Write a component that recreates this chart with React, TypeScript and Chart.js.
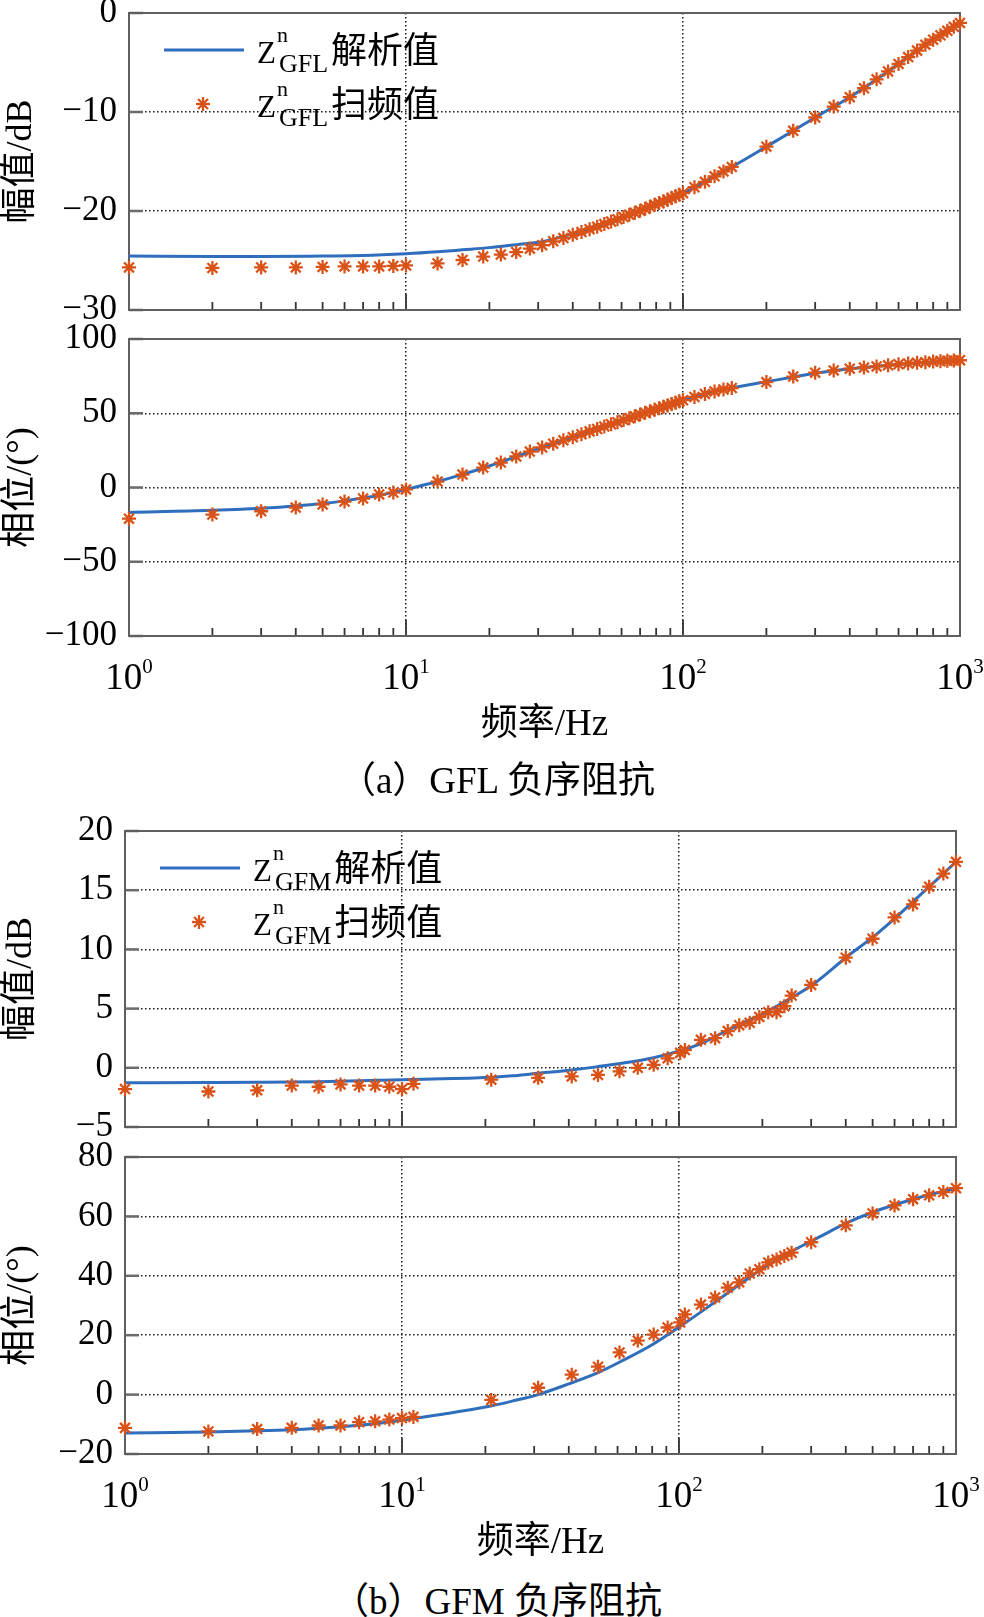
import React, { useEffect, useRef } from 'react';
import { Chart, registerables } from 'chart.js';

Chart.register(...registerables);

// ---------------- data ----------------
// GFL negative-sequence impedance: sweep points
const gflScanFreq = [1, 2, 3, 4, 5, 6, 7, 8, 9, 10, 13, 16, 19, 22, 25, 28, 31, 34, 37, 40, 43, 46, 49, 52, 55, 58, 61, 64, 67, 70, 73, 76, 79, 82, 85, 88, 91, 94, 97, 100, 110, 120, 130, 140, 150, 200, 250, 300, 350, 400, 450, 500, 550, 600, 650, 700, 750, 800, 850, 900, 950, 1000];
const gflScanMag = [-25.7, -25.75, -25.7, -25.7, -25.65, -25.6, -25.6, -25.6, -25.55, -25.5, -25.3, -24.95, -24.6, -24.4, -24.15, -23.8, -23.45, -23.06, -22.73, -22.41, -22.13, -21.84, -21.58, -21.32, -21.07, -20.84, -20.61, -20.39, -20.17, -19.97, -19.77, -19.57, -19.38, -19.2, -19.03, -18.86, -18.68, -18.52, -18.36, -18.2, -17.6, -17.05, -16.5, -16.0, -15.55, -13.5, -11.9, -10.55, -9.45, -8.5, -7.6, -6.7, -5.9, -5.15, -4.45, -3.8, -3.2, -2.7, -2.25, -1.8, -1.4, -1.0];
const gflScanPhase = [-21, -18.2, -16, -13.5, -11.4, -9.5, -7.4, -4.7, -3.4, -1.3, 4, 8.7, 13.4, 16.8, 20.9, 24.2, 27, 29.5, 31.8, 33.9, 35.9, 37.8, 39.4, 41.1, 42.6, 44, 45.4, 46.7, 47.9, 49.1, 50.3, 51.4, 52.4, 53.4, 54.4, 55.3, 56.3, 57.1, 58, 58.8, 61, 63, 64.7, 66, 67, 71, 74.7, 77.3, 78.8, 80, 80.8, 81.5, 82.3, 83, 83.5, 84, 84.4, 84.8, 85.1, 85.3, 85.5, 85.7];
// GFL analytic curve
const gflLineMagFreq = [1, 2, 3, 5, 7, 10, 13, 16, 20, 25, 31, 40, 50, 63, 80, 100, 130, 160, 200, 250, 300, 400, 500, 600, 700, 800, 900, 1000];
const gflLineMag = [-24.55, -24.6, -24.6, -24.55, -24.5, -24.32, -24.12, -23.92, -23.7, -23.4, -23.1, -22.3, -21.45, -20.45, -19.32, -18.2, -16.5, -15.1, -13.5, -11.9, -10.55, -8.5, -6.7, -5.15, -3.8, -2.7, -1.8, -1.0];
const gflLinePhaseFreq = [1, 2, 3, 4, 5, 6, 7, 8, 9, 10, 13, 16, 20, 25, 31, 40, 50, 63, 80, 100, 130, 160, 200, 250, 300, 400, 500, 600, 700, 800, 1000];
const gflLinePhase = [-16.8, -15.4, -13.9, -12.4, -10.8, -9.0, -7.1, -5.2, -3.3, -1.3, 4.0, 8.8, 14.5, 20.8, 27, 33.9, 40, 46.3, 52.8, 58.8, 64.8, 68.0, 71.2, 74.4, 77.0, 80, 81.6, 82.8, 83.8, 84.5, 85.6];

// GFM negative-sequence impedance: sweep points
const gfmScanFreq = [1, 2, 3, 4, 5, 6, 7, 8, 9, 10, 11, 21, 31, 41, 51, 61, 71, 81, 91, 101, 105, 120, 135, 150, 165, 180, 195, 210, 225, 240, 255, 300, 400, 500, 600, 700, 800, 900, 1000];
const gfmScanMag = [-1.8, -2.0, -1.9, -1.5, -1.6, -1.4, -1.5, -1.5, -1.6, -1.8, -1.35, -1.0, -0.85, -0.73, -0.6, -0.3, 0.0, 0.25, 0.8, 1.26, 1.5, 2.36, 2.5, 3.1, 3.6, 3.8, 4.3, 4.7, 4.7, 5.2, 6.1, 7.0, 9.3, 10.9, 12.7, 13.8, 15.3, 16.4, 17.4];
const gfmScanPhase = [-11.2, -12.4, -11.6, -11.2, -10.4, -10.4, -9.3, -9.0, -8.4, -7.9, -7.5, -1.8, 2.3, 6.7, 9.4, 14.2, 18.2, 20.2, 22.6, 24.3, 27, 30.3, 32.7, 36, 37.8, 40.8, 42.2, 44.5, 45.5, 46.7, 47.8, 51.3, 57, 61, 63.7, 65.8, 67.1, 68.2, 69.5];
// GFM analytic curve
const gfmLineMagFreq = [1, 2, 3, 5, 7, 10, 14, 19, 25, 31, 40, 51, 63, 81, 101, 120, 134, 160, 202, 250, 307, 405, 505, 600, 704, 800, 900, 1000];
const gfmLineMag = [-1.26, -1.24, -1.22, -1.17, -1.1, -1.0, -0.93, -0.85, -0.68, -0.46, -0.2, 0.1, 0.4, 0.85, 1.45, 2.05, 2.6, 3.5, 4.6, 5.8, 7.1, 9.4, 11.1, 12.6, 14.1, 15.3, 16.4, 17.4];
const gfmLinePhaseFreq = [1, 2, 3, 4, 5, 6, 7, 8, 10, 14, 20, 25, 31, 40, 51, 63, 80, 101, 126, 160, 202, 250, 320, 405, 500, 630, 800, 1000];
const gfmLinePhase = [-12.9, -12.6, -12.2, -11.8, -11.3, -10.8, -10.3, -9.8, -8.6, -6.6, -4.2, -2.2, 0, 3.6, 7.4, 11.6, 16.8, 23, 29.2, 36.1, 42.7, 47.8, 53.0, 57.9, 61.4, 64.5, 67.3, 69.4];

// axis ticks and labels
const xTickValues = [1, 2, 3, 4, 5, 6, 7, 8, 9, 10, 20, 30, 40, 50, 60, 70, 80, 90, 100, 200, 300, 400, 500, 600, 700, 800, 900, 1000];
const decadeTicks = [1, 10, 100, 1000];
const decadeExponents = ['0', '1', '2', '3'];
const xTitle = '频率/Hz';
const magTitle = '幅值/dB';
const phaseTitle = '相位/(°)';
const legendSymbol = 'Z';
const legendSup = 'n';
const lineLabel = '解析值';
const scanLabel = '扫频值';
const captionA = '（a）GFL 负序阻抗';
const captionB = '（b）GFM 负序阻抗';

// ---------------- styles ----------------
const SERIF = "'Liberation Serif', 'Times New Roman', 'Noto Sans CJK SC', serif";
const CJK = "'Noto Sans CJK SC', 'Liberation Serif', sans-serif";
const LINE_COLOR = '#2f6ebd';
const STAR_COLOR = '#d95319';
const GRID_COLOR = '#1a1a1a';

Chart.defaults.font.family = SERIF;
Chart.defaults.color = '#000';

function drawStar(ctx: CanvasRenderingContext2D, x: number, y: number, r: number) {
  ctx.save();
  ctx.strokeStyle = STAR_COLOR;
  ctx.lineWidth = 2.3;
  for (let k = 0; k < 4; k++) {
    const ang = (k * Math.PI) / 4;
    const dx = Math.cos(ang) * r;
    const dy = Math.sin(ang) * r;
    ctx.beginPath();
    ctx.moveTo(x - dx, y - dy);
    ctx.lineTo(x + dx, y + dy);
    ctx.stroke();
  }
  ctx.restore();
}

function drawLegendLabel(ctx: CanvasRenderingContext2D, x: number, base: number, sub: string, text: string) {
  ctx.save();
  ctx.fillStyle = '#000';
  ctx.textAlign = 'left';
  ctx.textBaseline = 'alphabetic';
  ctx.font = `31px ${SERIF}`;
  ctx.fillText(legendSymbol, x, base);
  const zw = ctx.measureText(legendSymbol).width;
  ctx.font = `22px ${SERIF}`;
  ctx.fillText(legendSup, x + zw + 1, base - 21);
  ctx.font = `26px ${SERIF}`;
  ctx.fillText(sub, x + zw + 3, base + 9);
  const sw = ctx.measureText(sub).width;
  ctx.font = `36px ${CJK}`;
  ctx.fillText(text, x + zw + 3 + sw + 3, base);
  ctx.restore();
}

const matlabAxes = {
  id: 'matlabAxes',
  beforeDatasetsDraw(chart: any, _args: any, _opts: any) {
    const { ctx, chartArea: a, scales } = chart;
    const x = scales.x;
    const y = scales.y;
    ctx.save();
    // bottom x ticks (inward)
    ctx.strokeStyle = '#333';
    ctx.lineWidth = 1.8;
    for (const v of xTickValues) {
      const px = x.getPixelForValue(v);
      const len = decadeTicks.includes(v) ? 16 : 8;
      ctx.beginPath();
      ctx.moveTo(px, a.bottom);
      ctx.lineTo(px, a.bottom - len);
      ctx.stroke();
    }
    // left y ticks (inward)
    ctx.strokeStyle = '#6b6b6b';
    ctx.lineWidth = 2.5;
    for (const t of y.ticks) {
      const py = y.getPixelForValue(t.value);
      ctx.beginPath();
      ctx.moveTo(a.left, py);
      ctx.lineTo(a.left + 14, py);
      ctx.stroke();
    }
    // box
    ctx.strokeStyle = '#5f5f5f';
    ctx.lineWidth = 2;
    ctx.strokeRect(a.left, a.top, a.right - a.left, a.bottom - a.top);
    ctx.restore();
  },
  afterDraw(chart: any, _args: any, opts: any) {
    const { ctx, chartArea: a, scales } = chart;
    if (opts.legendSub) {
      const L = a.left;
      const T = a.top;
      ctx.save();
      ctx.strokeStyle = LINE_COLOR;
      ctx.lineWidth = 3;
      ctx.beginPath();
      ctx.moveTo(L + 35, T + 37);
      ctx.lineTo(L + 115, T + 37);
      ctx.stroke();
      ctx.restore();
      drawStar(ctx, L + 74, T + 91, 7);
      drawLegendLabel(ctx, L + 128, T + 50, opts.legendSub, lineLabel);
      drawLegendLabel(ctx, L + 128, T + 104, opts.legendSub, scanLabel);
    }
    if (opts.xLabels) {
      const x = scales.x;
      ctx.save();
      ctx.fillStyle = '#000';
      ctx.textAlign = 'left';
      ctx.textBaseline = 'alphabetic';
      decadeTicks.forEach((v, i) => {
        const px = x.getPixelForValue(v);
        const base = a.bottom + 53;
        ctx.font = `37px ${SERIF}`;
        const w1 = ctx.measureText('10').width;
        ctx.font = `21px ${SERIF}`;
        const w2 = ctx.measureText(decadeExponents[i]).width;
        const start = px - (w1 + w2) / 2;
        ctx.font = `37px ${SERIF}`;
        ctx.fillText('10', start, base);
        ctx.font = `21px ${SERIF}`;
        ctx.fillText(decadeExponents[i], start + w1, base - 16);
      });
      ctx.restore();
    }
  },
};

type PanelCfg = {
  top: number;
  height: number;
  plot: { l: number; r: number; t: number; b: number };
  yMin: number;
  yMax: number;
  yStep: number;
  yTitle: string;
  lineF: number[];
  lineV: number[];
  scanF: number[];
  scanV: number[];
  legendSub: string | null;
  xAxisH: number;
};

const panels: PanelCfg[] = [
  { top: 0, height: 330, plot: { l: 129, r: 960, t: 13, b: 310 }, yMin: -30, yMax: 0, yStep: 10, yTitle: magTitle, lineF: gflLineMagFreq, lineV: gflLineMag, scanF: gflScanFreq, scanV: gflScanMag, legendSub: 'GFL', xAxisH: 0 },
  { top: 320, height: 440, plot: { l: 129, r: 960, t: 339, b: 636 }, yMin: -100, yMax: 100, yStep: 50, yTitle: phaseTitle, lineF: gflLinePhaseFreq, lineV: gflLinePhase, scanF: gflScanFreq, scanV: gflScanPhase, legendSub: null, xAxisH: 111 },
  { top: 810, height: 330, plot: { l: 125, r: 956, t: 831, b: 1127 }, yMin: -5, yMax: 20, yStep: 5, yTitle: magTitle, lineF: gfmLineMagFreq, lineV: gfmLineMag, scanF: gfmScanFreq, scanV: gfmScanMag, legendSub: 'GFM', xAxisH: 0 },
  { top: 1140, height: 440, plot: { l: 125, r: 956, t: 1157, b: 1454 }, yMin: -20, yMax: 80, yStep: 20, yTitle: phaseTitle, lineF: gfmLinePhaseFreq, lineV: gfmLinePhase, scanF: gfmScanFreq, scanV: gfmScanPhase, legendSub: null, xAxisH: 111 },
];

function PanelChart({ cfg }: { cfg: PanelCfg }) {
  const ref = useRef<HTMLCanvasElement | null>(null);
  useEffect(() => {
    const canvas = ref.current;
    if (!canvas) return;
    const { plot } = cfg;
    const padTop = plot.t - cfg.top;
    const padBottom = cfg.height - (plot.b - cfg.top) - cfg.xAxisH;
    const chart = new Chart(canvas, {
      type: 'line',
      data: {
        datasets: [
          {
            label: scanLabel,
            data: cfg.scanF.map((f, i) => ({ x: f, y: cfg.scanV[i] })),
            showLine: false,
            pointStyle: 'star',
            pointRadius: 7,
            pointBorderWidth: 2.3,
            pointBorderColor: STAR_COLOR,
            pointBackgroundColor: STAR_COLOR,
            borderColor: STAR_COLOR,
            clip: false,
            order: 0,
          } as any,
          {
            label: lineLabel,
            data: cfg.lineF.map((f, i) => ({ x: f, y: cfg.lineV[i] })),
            borderColor: LINE_COLOR,
            borderWidth: 3,
            pointRadius: 0,
            cubicInterpolationMode: 'monotone',
            fill: false,
            order: 1,
          } as any,
        ],
      },
      options: {
        responsive: false,
        animation: false,
        devicePixelRatio: 1,
        events: [],
        layout: { padding: { left: 0, top: padTop, right: 984 - plot.r, bottom: padBottom } },
        plugins: {
          legend: { display: false },
          tooltip: { enabled: false },
          matlabAxes: { legendSub: cfg.legendSub, xLabels: cfg.xAxisH > 0 },
        } as any,
        scales: {
          x: {
            type: 'logarithmic',
            min: 1,
            max: 1000,
            afterBuildTicks: (s: any) => {
              s.ticks = xTickValues.map((v) => ({ value: v }));
            },
            ticks: { display: false },
            grid: {
              drawTicks: false,
              lineWidth: 1.5,
              color: (c: any) => {
                const v = c.tick ? c.tick.value : 0;
                return v === 10 || v === 100 ? GRID_COLOR : 'rgba(0,0,0,0)';
              },
            },
            border: { display: false, dash: [1.5, 2.5] },
            title: {
              display: cfg.xAxisH > 0,
              text: xTitle,
              color: '#000',
              font: { family: SERIF, size: 37 },
              padding: { top: 0, bottom: 0 },
            },
            afterFit: (s: any) => {
              s.height = cfg.xAxisH;
              s.paddingLeft = 0;
              s.paddingRight = 0;
            },
          } as any,
          y: {
            min: cfg.yMin,
            max: cfg.yMax,
            ticks: {
              stepSize: cfg.yStep,
              color: '#000',
              padding: 12,
              font: { family: SERIF, size: 35 },
              callback: (v: any) => String(v).replace('-', '\u2212'),
            },
            grid: {
              drawTicks: false,
              lineWidth: 1.5,
              color: (c: any) =>
                c.index === 0 || c.index === c.scale.ticks.length - 1 ? 'rgba(0,0,0,0)' : GRID_COLOR,
            },
            border: { display: false, dash: [1.5, 2.5] },
            title: {
              display: true,
              text: cfg.yTitle,
              color: '#000',
              font: { family: SERIF, size: 36 },
              padding: { top: 0, bottom: 0 },
            },
            afterFit: (s: any) => {
              s.width = plot.l;
              s.paddingTop = 0;
              s.paddingBottom = 0;
            },
          } as any,
        },
      },
      plugins: [matlabAxes as any],
    });
    return () => chart.destroy();
  }, [cfg]);
  return (
    <canvas
      ref={ref}
      width={984}
      height={cfg.height}
      style={{ position: 'absolute', left: 0, top: cfg.top, width: 984, height: cfg.height }}
    />
  );
}

const captionStyle = (top: number): React.CSSProperties => ({
  position: 'absolute',
  left: 5,
  top,
  width: 984,
  textAlign: 'center',
  fontFamily: SERIF,
  fontSize: 37,
  lineHeight: '44px',
  color: '#000',
  whiteSpace: 'nowrap',
});

export default function App() {
  return (
    <div
      style={{
        position: 'absolute',
        left: 0,
        top: 0,
        width: 984,
        height: 1617,
        overflow: 'hidden',
        background: '#fff',
      }}
    >
      {panels.map((p, i) => (
        <PanelChart key={i} cfg={p} />
      ))}
      <div style={captionStyle(759)}>{captionA}</div>
      <div style={captionStyle(1580)}>{captionB}</div>
    </div>
  );
}
